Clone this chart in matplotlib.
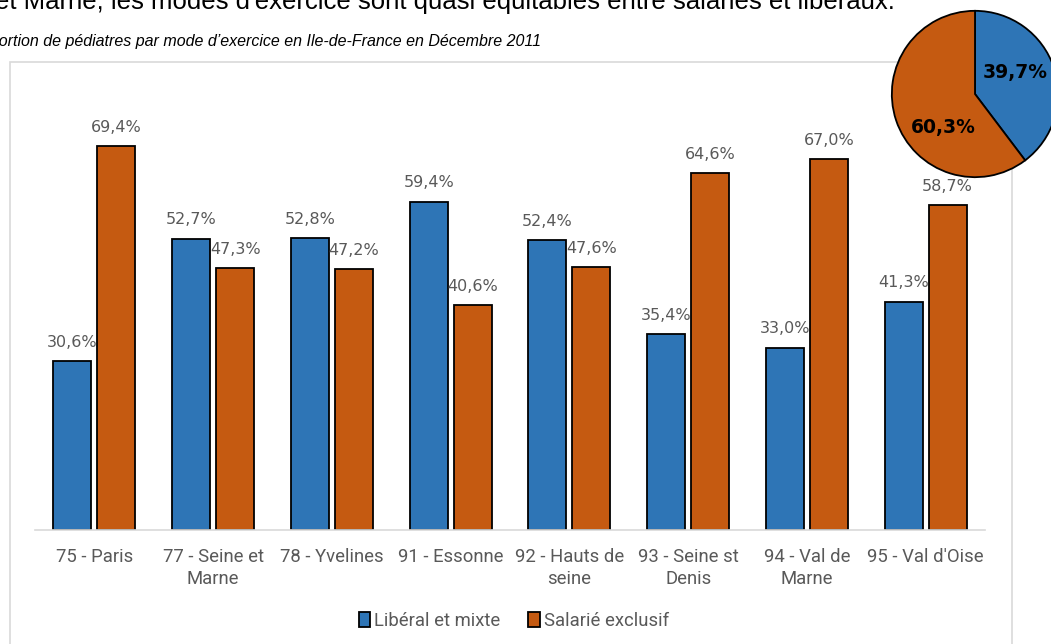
import matplotlib
matplotlib.use("Agg")
import matplotlib.pyplot as plt
from matplotlib.patches import Rectangle
import numpy as np

departements = ["75 - Paris", "77 - Seine et\nMarne", "78 - Yvelines", "91 - Essonne",
                "92 - Hauts de\nseine", "93 - Seine st\nDenis", "94 - Val de\nMarne",
                "95 - Val d'Oise"]
liberal = [30.6, 52.7, 52.8, 59.4, 52.4, 35.4, 33.0, 41.3]
salarie = [69.4, 47.3, 47.2, 40.6, 47.6, 64.6, 67.0, 58.7]
pie_values = [39.7, 60.3]
series_names = ["Libéral et mixte", "Salarié exclusif"]

BLUE = "#2E75B6"
ORANGE = "#C55A11"
GREY_TXT = "#595959"
TICK_FONT = ["Roboto", "DejaVu Sans"]


def fmt(v):
    return f"{v:.1f}%".replace(".", ",")


fig = plt.figure(figsize=(10.51, 6.44), dpi=100)

# header text, cut by the top of the picture
fig.text(-0.005, 1.0 - 9 / 644, "et Marne, les modes d'exercice sont quasi équitables entre salariés et libéraux.",
         fontsize=18.5, family="Liberation Sans", va="baseline", ha="left")
fig.text(-0.033, 1.0 - 46 / 644, "Proportion de pédiatres par mode d\u2019exercice en Ile-de-France en Décembre 2011",
         fontsize=11.5, style="italic", family="Liberation Sans", va="baseline", ha="left")

# chart frame
fig.patches.append(Rectangle((10 / 1051, -0.1), 1002 / 1051, 1.1 - 62 / 644, zorder=0.5,
                             transform=fig.transFigure, fill=False, edgecolor="#D9D9D9", lw=1.2))

ax = fig.add_axes([35 / 1051, (644 - 530) / 644, 950 / 1051, (530 - 87.6) / 644])
x = np.arange(len(departements))
w = 0.32
b1 = ax.bar(x - 0.185, liberal, w, color=BLUE, edgecolor="black", lw=1.3, label=series_names[0])
b2 = ax.bar(x + 0.185, salarie, w, color=ORANGE, edgecolor="black", lw=1.3, label=series_names[1])
for bars, vals in ((b1, liberal), (b2, salarie)):
    for r, v in zip(bars, vals):
        ax.annotate(fmt(v), (r.get_x() + r.get_width() / 2, v), xytext=(0, 8),
                    textcoords="offset points", ha="center", va="bottom",
                    fontsize=11.5, color=GREY_TXT)

ax.set_xlim(-0.5, len(departements) - 0.5)
ax.set_ylim(0, 80)
ax.set_xticks(x)
ax.set_xticklabels(departements, fontsize=13.3, color=GREY_TXT, family=TICK_FONT, linespacing=1.3)
ax.tick_params(axis="x", length=0, pad=13)
ax.set_yticks([])
for s in ("top", "right", "left"):
    ax.spines[s].set_visible(False)
ax.spines["bottom"].set_color("#D9D9D9")
ax.spines["bottom"].set_linewidth(1.2)
ax.patch.set_alpha(0)

leg = fig.legend(handles=[b1, b2], loc="center", bbox_to_anchor=(514 / 1051, 1 - 621 / 644),
                 ncol=2, frameon=False, handlelength=0.6, handleheight=0.9,
                 columnspacing=1.5, handletextpad=0.25, prop={"family": TICK_FONT, "size": 13.3})
for t in leg.get_texts():
    t.set_color(GREY_TXT)

# pie in the top right corner, cut by the picture edge
pax = fig.add_axes([891 / 1051, (644 - 178) / 644, 168 / 1051, 168 / 644], zorder=3)
pax.pie(pie_values, colors=[BLUE, ORANGE], startangle=90, counterclock=False,
        wedgeprops={"edgecolor": "black", "linewidth": 1.3})
pax.set_xlim(-1.01, 1.01)
pax.set_ylim(-1.01, 1.01)
pax.set_aspect("equal")
pax.axis("off")
pax.text(0.48, 0.26, fmt(pie_values[0]), ha="center", va="center", fontsize=13.5, fontweight="bold")
pax.text(-0.38, -0.40, fmt(pie_values[1]), ha="center", va="center", fontsize=13.5, fontweight="bold")

fig.savefig("out.png", dpi=100)
